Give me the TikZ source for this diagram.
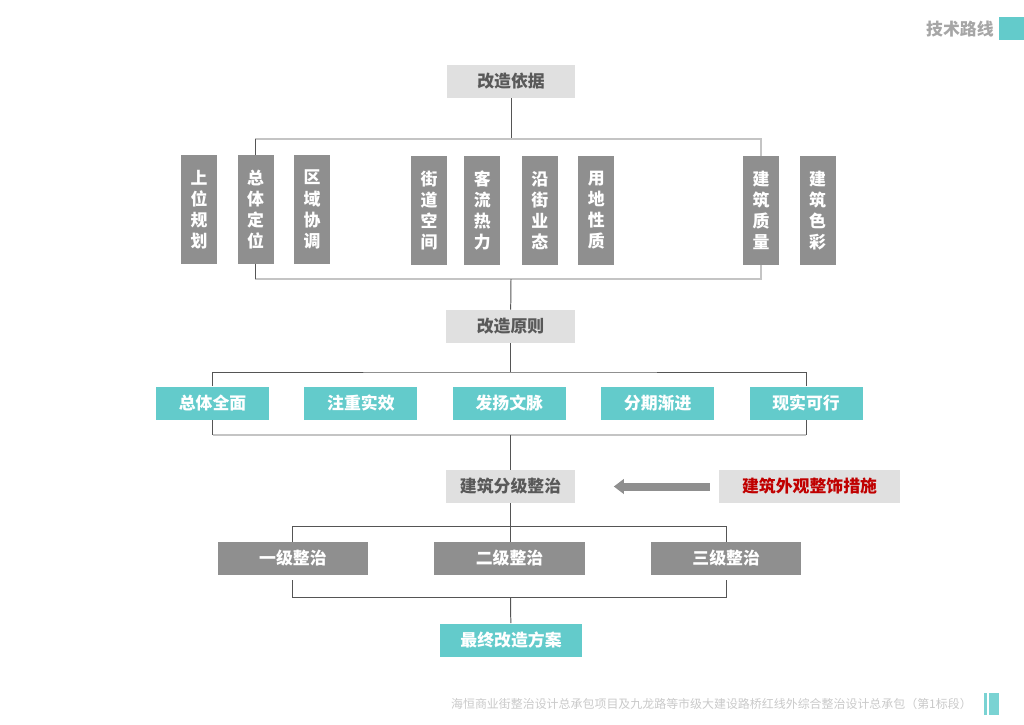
\documentclass[tikz,border=0pt]{standalone}
\usepackage{fontspec}
\setmainfont{Noto Sans CJK SC}
\usetikzlibrary{positioning,arrows.meta}
\definecolor{paleGray}{HTML}{E0E0E0}
\definecolor{boxGray}{HTML}{8F8F8F}
\definecolor{inkGray}{HTML}{595959}
\definecolor{lineDark}{HTML}{555555}
\definecolor{lineLight}{HTML}{C4C4C4}
\definecolor{tealFill}{HTML}{63CBCB}
\definecolor{signalRed}{HTML}{C00000}
\definecolor{titleGray}{HTML}{A6A6A6}
\definecolor{footGray}{HTML}{C9C9C9}
\tikzset{
    headbox/.style={fill=paleGray,minimum width=3.2cm,minimum height=0.825cm,
        inner sep=0pt,align=center,text=inkGray,font=\fontsize{12}{14}\selectfont\bfseries},
    tallbox/.style={fill=boxGray,minimum width=0.9cm,minimum height=2.7cm,
        inner sep=0pt,align=center,text=white,font=\fontsize{12}{15}\selectfont\bfseries},
    tealbox/.style={fill=tealFill,minimum width=2.825cm,minimum height=0.825cm,
        inner sep=0pt,align=center,text=white,font=\fontsize{12}{14}\selectfont\bfseries},
    gradebox/.style={fill=boxGray,minimum width=3.75cm,minimum height=0.825cm,
        inner sep=0pt,align=center,text=white,font=\fontsize{12}{14}\selectfont\bfseries},
    link/.style={draw=lineDark,line width=0.7pt},
    softlink/.style={draw=lineLight,line width=1pt},
    bigarrow/.style={-{Triangle[length=0.25cm,width=0.36cm]},draw=boxGray,line width=0.2cm}
}

\begin{document}
\begin{tikzpicture}[x=0.025cm,y=-0.025cm]
    \useasboundingbox (0,0) rectangle (1024,724);
    % header and footer
    \node[anchor=east,inner sep=0pt,text=titleGray,font=\fontsize{12}{14}\selectfont\bfseries] (title) at (994,29) {技术路线};
    \fill[tealFill] (999,17) rectangle (1024,40);
    \node[anchor=east,inner sep=0pt,text=footGray,font=\fontsize{8.5}{10}\selectfont] (footer) at (972,704)
        {海恒商业街整治设计总承包项目及九龙路等市级大建设路桥红线外综合整治设计总承包（第1标段）};
    \fill[tealFill!85] (984,693) rectangle (987,715);
    \fill[tealFill!85] (989,693) rectangle (999,715);

    % basis
    \node[headbox] (basis) at (511,81.5) {改造依据};
    \node[tallbox] (shangwei) at (199,209.5) {上\\位\\规\\划};
    \node[tallbox] (zongti) [right=0.5cm of shangwei] {总\\体\\定\\位};
    \node[tallbox] (quyu) [right=0.5cm of zongti] {区\\域\\协\\调};
    \node[tallbox] (jiedao) at (429,210.5) {街\\道\\空\\间};
    \node[tallbox] (keliu) [right=0.42cm of jiedao] {客\\流\\热\\力};
    \node[tallbox] (yanjie) [right=0.52cm of keliu] {沿\\街\\业\\态};
    \node[tallbox] (yongdi) [right=0.5cm of yanjie] {用\\地\\性\\质};
    \node[tallbox] (zhiliang) at (761,210.5) {建\\筑\\质\\量};
    \node[tallbox] (secai) [right=0.5cm of zhiliang] {建\\筑\\色\\彩};

    % principles
    \node[headbox] (rule) at (510.5,326.5) {改造原则};
    \node[tealbox] (quanmian) at (212.5,403) {总体全面};
    \node[tealbox] (shixiao) [right=0.87cm of quanmian] {注重实效};
    \node[tealbox] (wenmai) [right=0.87cm of shixiao] {发扬文脉};
    \node[tealbox] (fenqi) [right=0.87cm of wenmai] {分期渐进};
    \node[tealbox] (kexing) [right=0.87cm of fenqi] {现实可行};

    % grading
    \node[headbox] (grade) at (510.5,486.5) {建筑分级整治};
    \node[headbox,minimum width=4.525cm,text=signalRed] (measure) at (809.5,486.5) {建筑外观整饰措施};
    \node[gradebox] (lvtwo) at (509.5,558.5) {二级整治};
    \node[gradebox] (lvone) [left=1.65cm of lvtwo] {一级整治};
    \node[gradebox] (lvthree) [right=1.65cm of lvtwo] {三级整治};
    \node[tealbox,minimum width=3.55cm] (final) at (511,640) {最终改造方案};

    \coordinate (basisBar) at (511,139);
    \coordinate (ruleBar) at (511,279);
    \coordinate (principleTop) at (510.5,372);
    \coordinate (principleBot) at (510.5,435);
    \coordinate (gradeTop) at (510.5,526);
    \coordinate (finalBar) at (510.5,597);

    \draw[link] (basis) -- (basisBar);
    \draw[softlink] (zongti.north) |- (basisBar) -| (zhiliang.north);
    \draw[link] (zongti.north) -- (zongti.north |- basisBar);
    \draw[softlink] (zongti.south) |- (ruleBar) -| (zhiliang.south);
    \draw[link] (zongti.south) -- (zongti.south |- ruleBar);
    \draw[link] (ruleBar) -- (rule);

    \draw[link] (rule) -- (principleTop);
    \draw[link] (quanmian.north) |- (principleTop) -| (kexing.north);
    \draw[softlink,line width=1.5pt] (quanmian.south |- principleBot) -- (kexing.south |- principleBot);
    \draw[link] (quanmian.south) -- (quanmian.south |- principleBot);
    \draw[link] (kexing.south) -- (kexing.south |- principleBot);
    \draw[link] (principleBot) -- (grade);

    \draw[bigarrow,shorten <=0.225cm,shorten >=0.975cm] (measure) -- (grade);
    \draw[link] (grade) -- (grade |- lvtwo.north);
    \draw[link] (lvone.north) |- (gradeTop) -| (lvthree.north);
    \draw[link,shorten <=0.125cm,shorten >=0.125cm] (lvone.south) |- (finalBar) -| (lvthree.south);
    \draw[link] (finalBar) -- (final);
\end{tikzpicture}
\end{document}
